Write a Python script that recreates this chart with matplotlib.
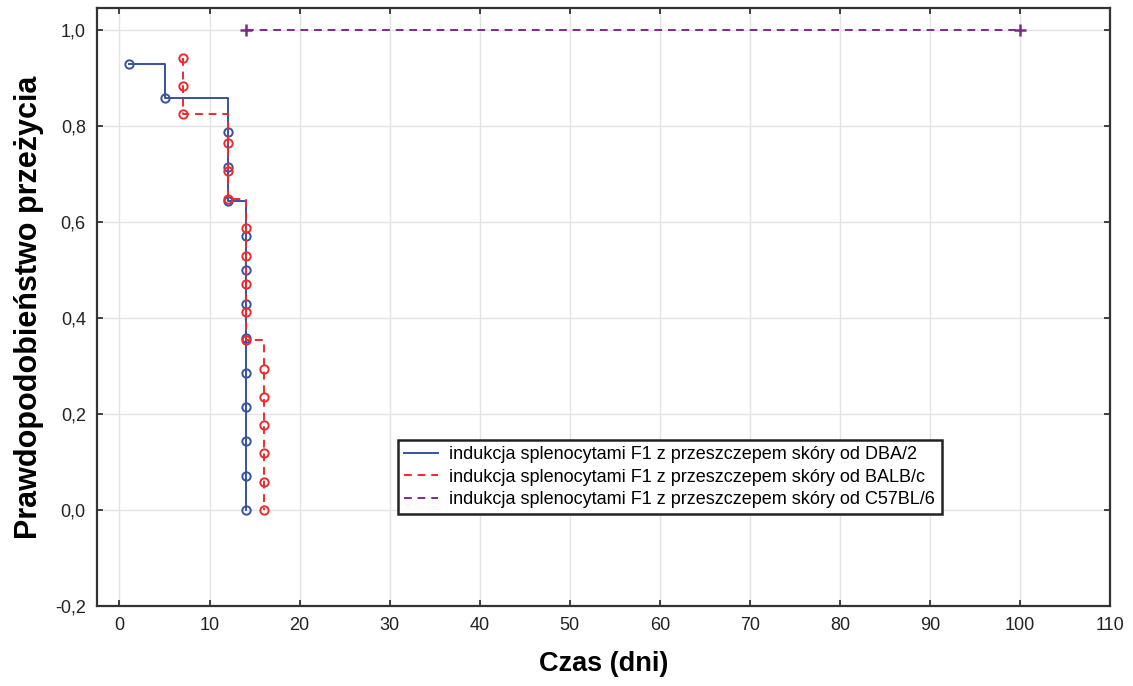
import matplotlib
matplotlib.use("Agg")
import matplotlib.pyplot as plt
from matplotlib.ticker import FuncFormatter, MultipleLocator

plt.rcParams['font.family'] = ['Liberation Sans', 'DejaVu Sans']

# event times and survival after each event
dba_t = [1, 5, 12, 12, 12, 14, 14, 14, 14, 14, 14, 14, 14, 14]
dba_s = [0.929, 0.857, 0.786, 0.714, 0.643, 0.571, 0.500, 0.429, 0.357,
         0.286, 0.214, 0.143, 0.071, 0.0]

balb_t = [7, 7, 7, 12, 12, 12, 14, 14, 14, 14, 14, 16, 16, 16, 16, 16, 16]
balb_s = [0.941, 0.882, 0.824, 0.765, 0.706, 0.647, 0.588, 0.529, 0.471,
          0.412, 0.353, 0.294, 0.235, 0.176, 0.118, 0.059, 0.0]

c57_t = [14, 100]
c57_s = [1.0, 1.0]

labels = [
    "indukcja splenocytami F1 z przeszczepem skóry od DBA/2",
    "indukcja splenocytami F1 z przeszczepem skóry od BALB/c",
    "indukcja splenocytami F1 z przeszczepem skóry od C57BL/6",
]

blue = "#3652a3"
red = "#ee2a2e"
purple = "#7d2a87"

fig = plt.figure(figsize=(11.33, 6.86), dpi=100)
ax = fig.add_axes([0.0856, 0.1166, 0.8941, 0.8717])

ax.plot(dba_t, dba_s, drawstyle="steps-post", color=blue, lw=1.4, label=labels[0])
ax.plot(dba_t, dba_s, ls="none", marker="o", ms=6, mfc="none", mec=blue, mew=1.4)

ax.plot(balb_t, balb_s, drawstyle="steps-post", color=red, lw=1.4,
        ls=(0, (4, 3)), label=labels[1])
ax.plot(balb_t, balb_s, ls="none", marker="o", ms=6, mfc="none", mec=red, mew=1.4)

ax.plot(c57_t, c57_s, color=purple, lw=1.4, ls=(0, (4, 3)), label=labels[2])
ax.plot(c57_t, c57_s, ls="none", marker="+", ms=9, mew=1.8, color=purple)

ax.set_xlim(-2.5, 110)
ax.set_ylim(-0.2, 1.045)
ax.xaxis.set_major_locator(MultipleLocator(10))
ax.yaxis.set_major_locator(MultipleLocator(0.2))
ax.yaxis.set_major_formatter(FuncFormatter(lambda v, p: f"{v:.1f}".replace(".", ",").replace("-0,0", "0,0")))

ax.grid(True, color="#e3e3e3", lw=1)
ax.set_axisbelow(True)
ax.tick_params(direction="in", top=True, right=True, length=4, width=1.2,
               labelsize=13, color="#222222", labelcolor="#222222", pad=8)
for sp in ax.spines.values():
    sp.set_color("#333333")
    sp.set_linewidth(1.6)

ax.set_xlabel("Czas (dni)", fontsize=19.5, fontweight="bold", labelpad=12)
ax.set_ylabel("Prawdopodobieństwo przeżycia", fontsize=22, fontweight="bold", labelpad=8)

leg = ax.legend(loc="upper left", bbox_to_anchor=(0.297, 0.2776), fontsize=13,
                frameon=True, fancybox=False, borderpad=0.35, handlelength=1.85,
                labelspacing=0.3, handletextpad=0.65, borderaxespad=0)
leg.get_frame().set_edgecolor("#222222")
leg.get_frame().set_linewidth(1.8)
leg.get_frame().set_alpha(1)

fig.savefig("out.png", dpi=100)
